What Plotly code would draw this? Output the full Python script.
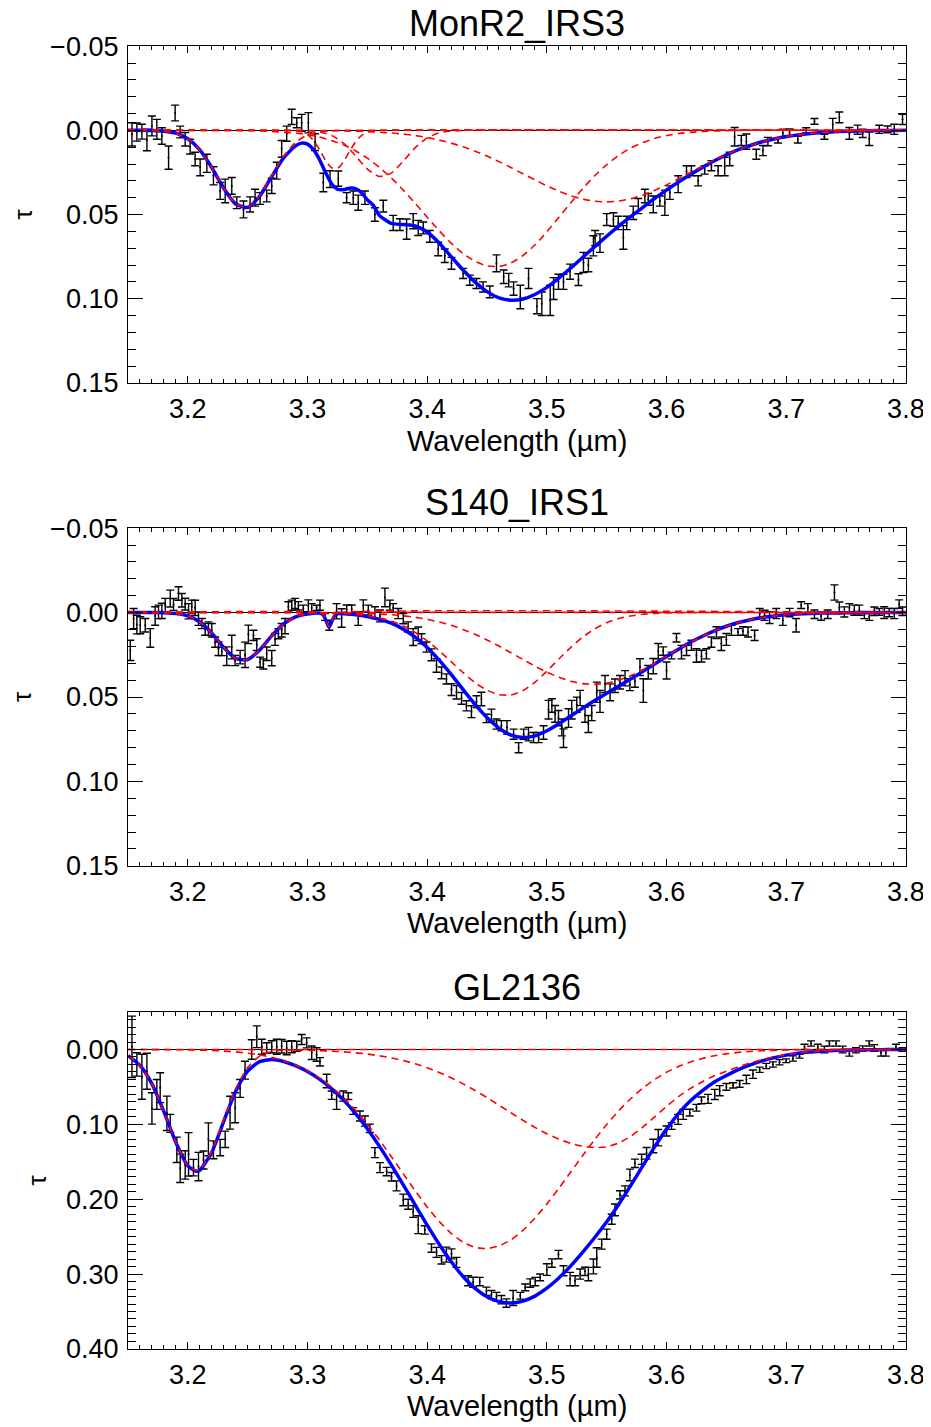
import plotly.graph_objects as go

FONT = "Liberation Sans, Arial, Helvetica, sans-serif"
PAGE_OFFSET = 8          # default body margin of the HTML page
W, H = 931 - PAGE_OFFSET, 1427 - PAGE_OFFSET

# ---------------- Panel 1: MonR2_IRS3 ----------------
p1_wl = [3.1533,3.1574,3.1616,3.1658,3.1700,3.1741,3.1783,3.1839,3.1894,3.1936,
         3.1978,3.2019,3.2061,3.2103,3.2159,3.2214,3.2270,3.2312,3.2367,3.2409,
         3.2465,3.2520,3.2562,3.2604,3.2659,3.2701,3.2743,3.2784,3.2826,3.2868,
         3.2910,3.2951,3.3007,3.3063,3.3132,3.3188,3.3257,3.3327,3.3382,3.3424,
         3.3480,3.3563,3.3633,3.3716,3.3772,3.3828,3.3883,3.3925,3.3967,3.4022,
         3.4092,3.4147,3.4203,3.4300,3.4356,3.4412,3.4467,3.4523,3.4579,3.4639,
         3.4681,3.4722,3.4778,3.4847,3.4917,3.4958,3.5028,3.5056,3.5097,3.5139,
         3.5194,3.5264,3.5306,3.5347,3.5389,3.5403,3.5444,3.5500,3.5556,3.5597,
         3.5639,3.5667,3.5722,3.5764,3.5819,3.5847,3.5889,3.5944,3.5986,3.6028,
         3.6097,3.6167,3.6208,3.6264,3.6319,3.6375,3.6431,3.6486,3.6528,3.6569,
         3.6625,3.6667,3.6750,3.6806,3.6847,3.6931,3.6972,3.7028,3.7097,3.7167,
         3.7236,3.7319,3.7389,3.7444,3.7528,3.7597,3.7639,3.7694,3.7778,3.7847,
         3.7903,3.7972]
p1_tau = [0.0024,0.001,0.0008,0.0057,-0.0026,-0.0006,0.0034,0.0162,-0.0103,0.001,
          0.0053,0.0097,0.017,0.022,0.0196,0.027,0.036,0.036,0.033,0.043,
          0.047,0.044,0.040,0.0405,0.039,0.033,0.024,0.011,0.002,-0.008,
          -0.0045,-0.0045,-0.0045,0.007,0.031,0.029,0.0287,0.040,0.040,0.043,
          0.040,0.050,0.045,0.055,0.056,0.0587,0.054,0.058,0.058,0.063,
          0.0705,0.0745,0.079,0.085,0.089,0.091,0.093,0.096,0.079,0.087,
          0.089,0.094,0.099,0.088,0.1045,0.103,0.101,0.094,0.090,0.090,
          0.084,0.0887,0.0785,0.080,0.0686,0.064,0.067,0.053,0.053,0.055,
          0.0636,0.055,0.049,0.045,0.039,0.041,0.044,0.042,0.043,0.037,
          0.032,0.0245,0.024,0.030,0.0235,0.021,0.024,0.0215,0.017,0.0038,
          0.006,0.0067,0.0142,0.012,0.0067,0.006,0.0018,0.0012,0.0055,0.0,
          -0.0053,0.0038,-0.0034,-0.0077,0.0018,-0.0004,0.0018,0.005,-0.0006,-0.0006,
          -0.0006,-0.0065]
p1_err = [0.0069,0.0054,0.0044,0.0064,0.0059,0.0059,0.0049,0.0069,0.0047,0.0035,
          0.004,0.0044,0.004,0.005,0.0054,0.0054,0.005,0.007,0.005,0.0035,
          0.005,0.0045,0.005,0.0035,0.0035,0.0045,0.005,0.005,0.0045,0.0045,
          0.003,0.005,0.006,0.005,0.0055,0.005,0.0045,0.003,0.004,0.0045,
          0.004,0.004,0.0035,0.0045,0.0035,0.006,0.0045,0.0045,0.0035,0.0035,
          0.004,0.004,0.0035,0.003,0.003,0.003,0.003,0.0035,0.005,0.004,
          0.004,0.004,0.007,0.006,0.0045,0.007,0.009,0.0065,0.0045,0.0045,
          0.0045,0.0035,0.006,0.004,0.006,0.0045,0.0055,0.0035,0.004,0.004,
          0.007,0.004,0.004,0.0045,0.004,0.0035,0.005,0.003,0.0075,0.004,
          0.005,0.0035,0.003,0.003,0.0025,0.003,0.003,0.0055,0.004,0.0055,
          0.003,0.0045,0.003,0.003,0.0025,0.0015,0.0025,0.002,0.002,0.0015,
          0.0017,0.0015,0.0037,0.0032,0.0035,0.0027,0.0025,0.004,0.0024,0.002,
          0.003,0.003]

p1_fit_wl = [3.15,3.16,3.17,3.18,3.19,3.20,3.21,3.22,3.23,3.24,3.25,3.26,3.27,3.28,3.29,
             3.295,3.30,3.305,3.31,3.315,3.32,3.325,3.33,3.335,3.34,3.345,3.35,3.355,
             3.36,3.37,3.38,3.39,3.40,3.41,3.42,3.43,3.44,3.45,3.46,3.47,3.48,3.49,3.50,
             3.51,3.52,3.53,3.54,3.55,3.56,3.57,3.58,3.59,3.60,3.61,3.62,3.63,3.64,3.65,
             3.66,3.67,3.68,3.69,3.70,3.71,3.72,3.73,3.74,3.75,3.76,3.77,3.78,3.79,3.80]
p1_fit = [0,0,0.0001,0.0005,0.0017,0.005,0.0116,0.0221,0.0344,0.0438,0.0458,0.0391,0.0276,0.0164,0.0092,
          0.0076,0.0082,0.0115,0.0173,0.025,0.0316,0.035,0.0353,0.0344,0.0346,0.0369,0.0413,0.0446,
          0.0505,0.0553,0.056,0.0568,0.0604,0.0669,0.075,0.083,0.0902,0.0958,0.0995,0.1009,0.1002,0.0975,0.0933,
          0.0878,0.0818,0.0754,0.0691,0.0629,0.0569,0.0512,0.0459,0.0405,0.0355,0.0307,0.0262,0.022,0.0181,0.0146,
          0.0115,0.009,0.0068,0.0051,0.0037,0.0027,0.0019,0.0013,0.0009,0.0006,0.0004,0.0002,0.0001,0.0001,0]

p1_c325_wl = [3.15,3.16,3.17,3.18,3.19,3.20,3.21,3.22,3.23,3.24,3.25,3.26,3.27,3.28,3.29,3.30,3.31,3.32,3.33,3.80]
p1_c325 = [0,0,0.0001,0.0005,0.0017,0.005,0.0116,0.0221,0.0344,0.0438,0.0456,0.0388,0.027,0.0154,0.0072,0.0027,0.0009,0.0002,0,0]
p1_c332_wl = [3.15,3.28,3.29,3.295,3.30,3.305,3.31,3.315,3.32,3.325,3.33,3.335,3.34,3.345,3.35,3.355,3.36,3.80]
p1_c332 = [0,0,0.0003,0.0009,0.0026,0.006,0.0114,0.0177,0.0222,0.0226,0.0188,0.0127,0.007,0.0031,0.0011,0.0003,0,0]
p1_c336_wl = [3.15,3.29,3.30,3.31,3.32,3.33,3.34,3.35,3.36,3.37,3.38,3.39,3.40,3.41,3.42,3.43,3.80]
p1_c336 = [0,0,0.0002,0.0009,0.003,0.0076,0.015,0.023,0.0274,0.0254,0.0183,0.0103,0.0045,0.0015,0.0004,0,0]
p1_c346_wl = [3.15,3.20,3.25,3.27,3.29,3.30,3.31,3.32,3.33,3.34,3.35,3.36,3.37,3.38,3.39,3.40,3.41,3.42,
              3.43,3.44,3.45,3.46,3.47,3.48,3.49,3.50,3.51,3.52,3.53,3.54,3.55,3.56,3.57,3.58,3.59,3.60,
              3.61,3.62,3.63,3.64,3.65,3.66,3.80]
p1_c346 = [0,0,0.0002,0.0006,0.0017,0.0026,0.004,0.006,0.0086,0.0121,0.0165,0.022,0.0283,0.0355,0.0434,0.0516,0.0596,0.067,
           0.0732,0.0778,0.0805,0.0809,0.0788,0.0744,0.0681,0.0603,0.0517,0.043,0.0346,0.027,0.0204,0.0149,0.0105,0.0073,0.0048,0.0031,
           0.0019,0.0012,0.0007,0.0004,0.0002,0,0]
p1_c355_wl = [3.15,3.30,3.32,3.34,3.35,3.36,3.37,3.38,3.39,3.40,3.41,3.42,3.43,3.44,3.45,3.46,3.47,3.48,3.49,3.50,
              3.51,3.52,3.53,3.54,3.55,3.56,3.57,3.58,3.59,3.60,3.61,3.62,3.63,3.64,3.65,3.66,3.67,3.68,3.69,3.70,
              3.71,3.72,3.73,3.74,3.75,3.76,3.77,3.78,3.79,3.80]
p1_c355 = [0,0.0001,0.0002,0.0005,0.0007,0.0011,0.0016,0.0022,0.0031,0.0043,0.0058,0.0076,0.0098,0.0124,0.0153,0.0186,0.0221,0.0258,0.0294,0.033,
           0.0361,0.0388,0.0408,0.0421,0.0425,0.042,0.0407,0.0386,0.0357,0.0324,0.0288,0.025,0.0213,0.0177,0.0144,0.0115,0.009,0.0068,0.0051,0.0037,
           0.0027,0.0019,0.0013,0.0009,0.0006,0.0004,0.0002,0.0001,0.0001,0]

# ---------------- Panel 2: S140_IRS1 ----------------
p2_wl = [3.1519,3.1547,3.1574,3.1602,3.1644,3.1686,3.1727,3.1755,3.1783,3.1811,
         3.1853,3.1880,3.1922,3.1950,3.1978,3.2006,3.2033,3.2061,3.2089,3.2117,
         3.2145,3.2172,3.2200,3.2228,3.2256,3.2284,3.2325,3.2367,3.2395,3.2437,
         3.2478,3.2506,3.2548,3.2576,3.2604,3.2631,3.2659,3.2701,3.2729,3.2757,
         3.2784,3.2812,3.2840,3.2868,3.2896,3.2924,3.2965,3.3007,3.3035,3.3076,
         3.3104,3.3146,3.3182,3.3243,3.3285,3.3327,3.3369,3.3424,3.3466,3.3508,
         3.3563,3.3605,3.3647,3.3688,3.3716,3.3758,3.3800,3.3841,3.3883,3.3925,
         3.3953,3.3994,3.4036,3.4078,3.4120,3.4161,3.4203,3.4245,3.4287,3.4328,
         3.4370,3.4412,3.4453,3.4495,3.4537,3.4579,3.4620,
         3.4667,3.4722,3.4764,3.4806,3.4847,3.4889,3.4931,3.4972,3.5014,3.5042,
         3.5069,3.5097,3.5125,3.5139,3.5181,3.5208,3.5250,3.5278,3.5319,3.5347,
         3.5375,3.5417,3.5444,3.5486,3.5528,3.5569,3.5611,3.5653,3.5694,3.5736,
         3.5778,3.5806,3.5847,3.5889,3.5931,3.5972,3.6000,3.6042,3.6083,3.6125,
         3.6167,3.6208,3.6250,3.6292,3.6333,3.6375,3.6417,3.6458,3.6500,3.6542,
         3.6597,3.6639,3.6681,3.6736,3.6778,3.6819,3.6861,3.6917,3.6972,3.7028,
         3.7083,3.7125,3.7181,3.7236,3.7292,3.7347,3.7403,3.7444,3.7486,3.7528,
         3.7569,3.7611,3.7653,3.7694,3.7736,3.7778,3.7819,3.7861,3.7903,3.7944,
         3.7972]
p2_tau = [0.0224,0.0036,0.0071,0.0075,0.0075,0.015,0.002,-0.0004,-0.001,-0.0044,
          -0.0083,-0.0048,-0.0113,-0.0073,-0.005,-0.0008,-0.0034,-0.0028,0.0036,0.0065,
          0.0099,0.0095,0.0105,0.0175,0.0214,0.023,0.0258,0.0204,0.0284,0.0264,
          0.025,0.0129,0.0135,0.019,0.0294,0.0304,0.0244,0.027,0.0159,0.0125,
          0.0105,0.008,-0.0034,-0.0044,-0.0054,-0.004,-0.0024,-0.004,-0.0028,-0.0028,
          -0.0044,0.0026,0.0075,-0.0008,0.0032,-0.002,-0.002,0.0036,-0.004,-0.0014,
          0.0,0.002,-0.009,-0.0044,-0.0028,0.0006,0.0036,0.0085,0.0145,0.0125,
          0.0155,0.0204,0.025,0.0313,0.0357,0.0393,0.0456,0.0472,0.0508,0.0552,
          0.0587,0.0528,0.0512,0.0627,0.0607,0.066,0.067,
          0.068,0.072,0.080,0.072,0.072,0.074,0.074,0.071,0.0575,0.055,
          0.060,0.0625,0.068,0.0744,0.0625,0.0575,0.0546,0.0506,0.0605,0.066,
          0.0595,0.0472,0.0526,0.0423,0.0472,0.0433,0.0413,0.0389,0.0427,0.0407,
          0.0323,0.0462,0.0353,0.0317,0.0228,0.0228,0.0343,0.0254,0.0149,0.0234,
          0.0224,0.0194,0.0254,0.0258,0.0244,0.0175,0.0119,0.0185,0.0159,0.0105,
          0.0115,0.0109,0.0115,0.0135,0.0006,0.0016,0.003,0.0006,0.0046,0.0,
          0.0075,-0.0044,-0.0028,0.001,0.002,0.001,-0.0119,-0.0028,-0.0004,-0.0028,
          -0.0014,-0.0014,0.0016,0.0026,-0.0008,-0.0004,0.0,0.0,0.0006,-0.005,
          -0.0008]
p2_err = [0.006,0.006,0.0055,0.005,0.004,0.0055,0.0055,0.004,0.0045,0.004,
          0.005,0.0035,0.004,0.004,0.0035,0.0045,0.004,0.0045,0.004,0.003,
          0.0035,0.004,0.004,0.003,0.004,0.0025,0.0055,0.007,0.003,0.004,
          0.0075,0.0055,0.003,0.0035,0.003,0.003,0.004,0.0045,0.0035,0.003,
          0.004,0.0045,0.003,0.003,0.003,0.0025,0.002,0.0035,0.0025,0.0015,
          0.003,0.002,0.003,0.0045,0.0055,0.0025,0.0025,0.004,0.0035,0.003,
          0.0035,0.0035,0.0055,0.003,0.0025,0.003,0.003,0.003,0.005,0.004,
          0.003,0.003,0.0035,0.004,0.0035,0.003,0.0035,0.004,0.0035,0.003,
          0.0035,0.0035,0.004,0.0025,0.0035,0.003,0.003,
          0.004,0.003,0.003,0.003,0.004,0.003,0.003,0.004,0.0055,0.004,
          0.005,0.0045,0.005,0.0055,0.0055,0.0055,0.0045,0.0045,0.0045,0.005,
          0.0045,0.006,0.0065,0.005,0.005,0.004,0.004,0.0045,0.0035,0.0035,
          0.005,0.007,0.004,0.0045,0.0045,0.0025,0.005,0.002,0.0025,0.004,
          0.003,0.003,0.004,0.0035,0.003,0.003,0.0035,0.004,0.0035,0.003,
          0.002,0.0025,0.003,0.003,0.003,0.003,0.0035,0.003,0.003,0.0025,
          0.004,0.002,0.0025,0.0025,0.0025,0.0025,0.0045,0.0035,0.003,0.0025,
          0.003,0.003,0.002,0.002,0.0025,0.002,0.0035,0.0025,0.003,0.0025,
          0.0025]

p2_fit_wl = [3.15,3.16,3.17,3.18,3.19,3.20,3.21,3.22,3.23,3.24,3.25,3.26,3.27,3.28,3.29,3.30,3.31,
             3.313,3.3155,3.318,3.3205,3.323,3.326,
             3.33,3.34,3.35,3.36,3.37,3.38,3.39,3.40,3.41,3.42,3.43,3.44,3.45,3.46,3.47,3.48,3.49,3.50,
             3.51,3.52,3.53,3.54,3.55,3.56,3.57,3.58,3.59,3.60,3.61,3.62,3.63,3.64,3.65,3.66,3.67,3.68,
             3.69,3.70,3.71,3.72,3.73,3.74,3.75,3.76,3.77,3.78,3.79,3.80]
p2_fit = [0,0,0,0.0001,0.0006,0.002,0.0056,0.0122,0.0206,0.0272,0.0278,0.0222,0.0138,0.0067,0.0025,0.0008,0.0003,
          0.0013,0.0048,0.0088,0.0049,0.0014,0.0005,
          0.0007,0.0013,0.0023,0.004,0.0063,0.0098,0.0146,0.0207,0.0282,0.0366,0.0456,0.0544,0.0622,0.0684,0.0726,0.074,0.073,0.07,
          0.0658,0.0613,0.0566,0.0521,0.0478,0.0435,0.0394,0.0349,0.0305,0.026,0.0217,0.0176,0.014,0.0108,0.0081,0.0059,0.0042,0.0029,
          0.002,0.0013,0.0008,0.0005,0.0003,0.0002,0.0001,0,0,0,0,0]

p2_c325_wl = [3.15,3.17,3.18,3.19,3.20,3.21,3.22,3.23,3.24,3.25,3.26,3.27,3.28,3.29,3.30,3.31,3.32,3.80]
p2_c325 = [0,0,0.0001,0.0006,0.002,0.0056,0.0122,0.0206,0.0272,0.0278,0.0222,0.0138,0.0067,0.0025,0.0007,0.0002,0,0]
p2_c332_wl = [3.15,3.31,3.313,3.3155,3.318,3.3205,3.323,3.326,3.80]
p2_c332 = [0,0,0.001,0.0045,0.0085,0.0045,0.001,0,0]
p2_c347_wl = [3.15,3.30,3.32,3.33,3.34,3.35,3.36,3.37,3.38,3.39,3.40,3.41,3.42,3.43,3.44,3.45,3.46,3.47,3.48,
              3.49,3.50,3.51,3.52,3.53,3.54,3.55,3.56,3.57,3.58,3.59,3.60,3.61,3.62,3.80]
p2_c347 = [0,0.0001,0.0003,0.0005,0.001,0.0018,0.0031,0.005,0.0079,0.0118,0.0167,0.0226,0.0291,0.0356,0.0415,0.046,0.0486,0.0488,0.0462,
           0.0413,0.0347,0.0275,0.0206,0.0145,0.0096,0.006,0.0035,0.002,0.001,0.0005,0.0002,0.0001,0,0]
p2_c354_wl = [3.15,3.30,3.32,3.34,3.35,3.36,3.37,3.38,3.39,3.40,3.41,3.42,3.43,3.44,3.45,3.46,3.47,3.48,3.49,3.50,
              3.51,3.52,3.53,3.54,3.55,3.56,3.57,3.58,3.59,3.60,3.61,3.62,3.63,3.64,3.65,3.66,3.67,3.68,3.69,3.70,
              3.71,3.72,3.73,3.74,3.75,3.76,3.80]
p2_c354 = [0,0,0.0001,0.0003,0.0005,0.0009,0.0013,0.0019,0.0028,0.004,0.0056,0.0075,0.01,0.0129,0.0162,0.0198,0.0238,0.0278,0.0317,0.0353,
           0.0383,0.0407,0.0421,0.0425,0.0418,0.04,0.0374,0.0339,0.03,0.0258,0.0216,0.0176,0.014,0.0108,0.0081,0.0059,0.0042,0.0029,0.002,0.0013,
           0.0008,0.0005,0.0003,0.0002,0.0001,0,0]

# ---------------- Panel 3: GL2136 ----------------
p3_wl = [3.1533,3.1574,3.1616,3.1658,3.1700,3.1741,3.1769,3.1825,3.1853,3.1908,
         3.1936,3.1978,3.2006,3.2047,3.2089,3.2131,3.2172,3.2214,3.2270,3.2312,
         3.2353,3.2395,3.2437,3.2478,3.2534,3.2576,3.2618,3.2659,3.2701,3.2743,
         3.2784,3.2826,3.2868,3.2910,3.2951,3.2993,3.3035,3.3076,3.3104,3.3160,
         3.3202,3.3243,3.3299,3.3341,3.3382,3.3438,3.3480,3.3521,3.3563,3.3605,
         3.3661,3.3702,3.3744,3.3800,3.3841,3.3883,3.3925,3.3980,3.4036,3.4078,
         3.4120,3.4161,3.4203,3.4245,3.4342,3.4384,3.4439,3.4495,3.4537,3.4579,
         3.4620,3.4662,3.4718,
         3.4778,3.4819,3.4861,3.4903,3.4944,3.5000,3.5042,3.5097,3.5139,3.5194,
         3.5236,3.5278,3.5319,3.5347,3.5389,3.5417,3.5458,3.5500,3.5542,3.5569,
         3.5611,3.5653,3.5694,3.5736,3.5792,3.5833,3.5889,3.5931,3.6000,3.6042,
         3.6097,3.6139,3.6194,3.6250,3.6292,3.6347,3.6403,3.6444,3.6500,3.6556,
         3.6611,3.6667,3.6722,3.6778,3.6833,3.6889,3.6944,3.7000,3.7056,3.7111,
         3.7153,3.7208,3.7264,3.7319,3.7361,3.7417,3.7472,3.7528,3.7583,3.7639,
         3.7694,3.7736,3.7792,3.7833,3.7917,3.7972]
p3_tau = [-0.0036,0.02,0.0364,0.029,0.0787,0.06,0.051,0.0853,0.0987,0.134,
          0.1587,0.1542,0.14,0.1578,0.1564,0.1476,0.12,0.134,0.131,0.12,
          0.0844,0.0778,0.052,0.0276,0.0,-0.017,-0.0036,-0.002,-0.0036,-0.0036,
          -0.0044,-0.002,-0.0036,-0.0044,-0.0133,-0.0089,0.0044,0.0067,0.0164,0.042,
          0.061,0.069,0.0622,0.0622,0.0822,0.0889,0.0956,0.1053,0.1378,0.1578,
          0.1631,0.17,0.1822,0.201,0.2067,0.2164,0.234,0.241,0.2653,0.271,
          0.281,0.274,0.273,0.2844,0.309,0.311,0.31,0.323,0.3276,0.33,
          0.3342,0.3387,0.332,
          0.329,0.3178,0.312,0.31,0.3044,0.294,0.2853,0.274,0.2956,0.3067,
          0.309,0.30,0.2964,0.30,0.2898,0.2778,0.26,0.2467,0.2267,0.2142,
          0.1942,0.1889,0.1676,0.152,0.1467,0.1387,0.1289,0.1178,0.1089,0.1022,
          0.0933,0.0867,0.0844,0.0778,0.068,0.066,0.060,0.055,0.050,0.048,
          0.046,0.040,0.033,0.027,0.022,0.020,0.017,0.015,0.012,0.009,
          -0.0036,-0.008,-0.0036,0.0,-0.008,-0.008,0.0,0.0053,0.001,-0.0013,
          -0.008,-0.002,0.0044,0.0044,-0.0036,0.0]
p3_err = [0.041,0.0156,0.03,0.024,0.021,0.02,0.02,0.023,0.012,0.017,
          0.019,0.019,0.029,0.011,0.019,0.012,0.022,0.012,0.011,0.011,
          0.022,0.02,0.012,0.012,0.013,0.0145,0.01,0.007,0.008,0.01,
          0.009,0.009,0.008,0.0067,0.0067,0.0067,0.009,0.009,0.0056,0.009,
          0.0056,0.011,0.0067,0.0045,0.0045,0.0067,0.0067,0.0056,0.0067,0.0067,
          0.0056,0.0056,0.0067,0.0078,0.0067,0.0078,0.012,0.0056,0.0056,0.0067,
          0.0056,0.01,0.0067,0.0067,0.0067,0.0067,0.0056,0.0056,0.0056,0.0056,
          0.0056,0.0056,0.01,
          0.0045,0.0045,0.0056,0.0056,0.0045,0.0078,0.0056,0.0056,0.0067,0.009,
          0.0067,0.0067,0.0056,0.009,0.01,0.013,0.0067,0.0067,0.0067,0.0078,
          0.0056,0.0067,0.0078,0.0056,0.0067,0.0078,0.009,0.011,0.0067,0.0045,
          0.0067,0.0067,0.0045,0.0045,0.0045,0.006,0.0067,0.0067,0.0045,0.0035,
          0.0045,0.0056,0.0056,0.0035,0.0035,0.0035,0.0035,0.0025,0.0035,0.0025,
          0.0035,0.0035,0.0035,0.0045,0.0035,0.0035,0.0045,0.0035,0.0035,0.0035,
          0.0035,0.0045,0.0045,0.0045,0.0035,0.0025]

p3_fit_wl = [3.15,3.16,3.17,3.18,3.19,3.20,3.207,3.21,3.22,3.23,3.24,3.25,3.26,3.27,3.28,3.29,3.30,
             3.31,3.32,3.33,3.34,3.35,3.36,3.37,3.38,3.39,3.40,3.41,3.42,3.43,3.44,3.45,3.46,3.47,3.48,
             3.49,3.50,3.51,3.52,3.53,3.54,3.55,3.56,3.57,3.58,3.59,3.60,3.61,3.62,3.63,3.64,3.65,3.66,
             3.67,3.68,3.69,3.70,3.71,3.72,3.73,3.74,3.75,3.76,3.77,3.78,3.79,3.80]
p3_fit = [0.0081,0.0213,0.046,0.083,0.1243,0.1554,0.1627,0.1613,0.1373,0.0959,0.0558,0.029,0.0163,0.0135,0.016,0.0216,0.0295,
          0.0396,0.0522,0.0673,0.0853,0.1059,0.1291,0.1542,0.1808,0.2078,0.2347,0.2602,0.2833,0.3033,0.3191,0.3302,0.3368,0.3387,0.3361,
          0.3294,0.3189,0.3052,0.289,0.2707,0.2511,0.2302,0.207,0.1818,0.1559,0.1301,0.1064,0.0857,0.0686,0.0549,0.0434,0.0348,0.0269,
          0.0206,0.0152,0.0109,0.0075,0.005,0.0033,0.0022,0.0013,0.0008,0.0005,0.0003,0.0002,0.0001,0]

p3_c321_wl = [3.15,3.16,3.17,3.18,3.19,3.20,3.207,3.21,3.22,3.23,3.24,3.25,3.26,3.27,3.28,3.29,3.30,3.80]
p3_c321 = [0.0081,0.0213,0.0459,0.0828,0.124,0.1549,0.162,0.1605,0.136,0.0938,0.0526,0.024,0.0089,0.0027,0.0007,0.0001,0,0]
p3_c345_wl = [3.15,3.17,3.19,3.20,3.21,3.22,3.23,3.24,3.25,3.26,3.27,3.28,3.29,3.30,3.31,3.32,3.33,3.34,3.35,3.36,
              3.37,3.38,3.39,3.40,3.41,3.42,3.43,3.44,3.45,3.46,3.47,3.48,3.49,3.50,3.51,3.52,3.53,3.54,3.55,3.56,
              3.57,3.58,3.59,3.60,3.61,3.62,3.63,3.64,3.65,3.66,3.67,3.68,3.69,3.70,3.71,3.72,3.73,3.74,3.75,3.80]
p3_c345 = [0,0.0001,0.0003,0.0005,0.0008,0.0013,0.0021,0.0032,0.0049,0.0072,0.0105,0.0149,0.0208,0.0285,0.0381,0.05,0.0642,0.0809,0.0998,0.1207,
           0.143,0.166,0.1887,0.2103,0.2296,0.2455,0.2574,0.2643,0.2659,0.2624,0.2542,0.2416,0.2254,0.2064,0.1854,0.1636,0.1415,0.1202,0.1002,0.082,
           0.0658,0.0519,0.0401,0.0304,0.0227,0.0166,0.0119,0.0084,0.0058,0.0039,0.0026,0.0017,0.0011,0.0007,0.0004,0.0003,0.0002,0.0001,0,0]
p3_c354_wl = [3.15,3.24,3.25,3.26,3.27,3.28,3.29,3.30,3.31,3.32,3.33,3.34,3.35,3.36,3.37,3.38,3.39,3.40,3.41,3.42,
              3.43,3.44,3.45,3.46,3.47,3.48,3.49,3.50,3.51,3.52,3.53,3.54,3.55,3.56,3.57,3.58,3.59,3.60,3.61,3.62,
              3.63,3.64,3.65,3.66,3.67,3.68,3.69,3.70,3.71,3.72,3.73,3.74,3.75,3.76,3.77,3.78,3.79,3.80]
p3_c354 = [0,0,0.0001,0.0002,0.0003,0.0004,0.0007,0.001,0.0015,0.0022,0.0031,0.0044,0.0061,0.0084,0.0112,0.0148,0.0191,0.0244,0.0306,0.0378,
           0.0459,0.0548,0.0643,0.0744,0.0845,0.0945,0.104,0.1125,0.1198,0.1254,0.1292,0.1309,0.130,0.125,0.116,0.104,0.09,0.076,0.063,0.052,
           0.043,0.035,0.029,0.023,0.018,0.0135,0.0098,0.0068,0.0046,0.003,0.002,0.0012,0.0008,0.0005,0.0003,0.0002,0.0001,0]

# ---------------- Text ----------------
titles = ["MonR2_IRS3", "S140_IRS1", "GL2136"]
x_label = "Wavelength (\u00b5m)"
y_label = "\u03c4"

panels = [
    dict(wl=p1_wl, tau=p1_tau, err=p1_err, fit_wl=p1_fit_wl, fit=p1_fit,
         comps=[(p1_c325_wl, p1_c325), (p1_c332_wl, p1_c332), (p1_c336_wl, p1_c336),
                (p1_c346_wl, p1_c346), (p1_c355_wl, p1_c355)]),
    dict(wl=p2_wl, tau=p2_tau, err=p2_err, fit_wl=p2_fit_wl, fit=p2_fit,
         comps=[(p2_c325_wl, p2_c325), (p2_c332_wl, p2_c332), (p2_c347_wl, p2_c347),
                (p2_c354_wl, p2_c354)]),
    dict(wl=p3_wl, tau=p3_tau, err=p3_err, fit_wl=p3_fit_wl, fit=p3_fit,
         comps=[(p3_c321_wl, p3_c321), (p3_c345_wl, p3_c345), (p3_c354_wl, p3_c354)]),
]

# layout geometry (page pixels; converted to figure pixels by removing the page offset)
plot_left, plot_right = 128, 906
panel_tb = [(46, 383), (528, 866), (1012, 1349)]
y_ranges = [[0.1501, -0.0501], [0.1501, -0.0501], [0.4001, -0.0501]]
y_dticks = [0.05, 0.05, 0.1]
title_y = [23, 503, 987]
xlab_y = [441, 923, 1406]
tau_x = [22, 22, 36]


def fx(px):
    return (px - PAGE_OFFSET) / W


def fy(py):
    return 1 - (py - PAGE_OFFSET) / H


fig = go.Figure()
layout = dict(width=W, height=H, margin=dict(l=0, r=0, t=0, b=0, pad=0, autoexpand=False),
              paper_bgcolor="white", plot_bgcolor="white", showlegend=False,
              font=dict(family=FONT, color="black"))
annotations = []

for i, p in enumerate(panels):
    xa = "x" if i == 0 else f"x{i+1}"
    ya = "y" if i == 0 else f"y{i+1}"
    fig.add_trace(go.Scatter(x=p["wl"], y=p["tau"], mode="markers", xaxis=xa, yaxis=ya,
                             marker=dict(size=2, color="black"),
                             error_y=dict(type="data", array=p["err"], color="black",
                                          thickness=1.4, width=4),
                             hoverinfo="skip"))
    fig.add_trace(go.Scatter(x=p["fit_wl"], y=p["fit"], mode="lines", xaxis=xa, yaxis=ya,
                             line=dict(color="#0000ff", width=3.5, shape="spline", smoothing=0.6),
                             hoverinfo="skip"))
    for cx, cy in p["comps"]:
        fig.add_trace(go.Scatter(x=cx, y=cy, mode="lines", xaxis=xa, yaxis=ya,
                                 line=dict(color="#ff0000", width=1.6, dash="7px,5px",
                                           shape="spline", smoothing=0.6),
                                 hoverinfo="skip"))

    top, bot = panel_tb[i]
    xkey = "xaxis" if i == 0 else f"xaxis{i+1}"
    ykey = "yaxis" if i == 0 else f"yaxis{i+1}"
    layout[xkey] = dict(domain=[fx(plot_left), fx(plot_right)], anchor=ya, automargin=False,
                        range=[3.15, 3.8001], tick0=3.2, dtick=0.1, tickformat=".1f",
                        ticks="inside", ticklen=7, tickwidth=1, tickcolor="black",
                        showline=True, linewidth=1.3, linecolor="black", mirror="allticks",
                        showgrid=False, zeroline=False, ticklabelstandoff=1,
                        tickfont=dict(family=FONT, size=27, color="black"),
                        minor=dict(dtick=0.01, tick0=3.15, ticks="inside", ticklen=3.5,
                                   tickwidth=1, tickcolor="black", showgrid=False))
    layout[ykey] = dict(domain=[fy(bot), fy(top)], anchor=xa, automargin=False,
                        range=y_ranges[i], tick0=0, dtick=y_dticks[i], tickformat=".2f",
                        ticks="inside", ticklen=15, tickwidth=1, tickcolor="black",
                        showline=True, linewidth=1.3, linecolor="black", mirror="allticks",
                        showgrid=False, zeroline=True, zerolinecolor="black", zerolinewidth=1,
                        ticklabelstandoff=3,
                        tickfont=dict(family=FONT, size=27, color="black"),
                        minor=dict(dtick=0.01, tick0=0, ticks="inside", ticklen=8,
                                   tickwidth=1, tickcolor="black", showgrid=False))
    cx_paper = fx((plot_left + plot_right) / 2)
    annotations.append(dict(text=titles[i], x=cx_paper, y=fy(title_y[i]), xref="paper", yref="paper",
                            xanchor="center", yanchor="middle", showarrow=False,
                            font=dict(family=FONT, size=36, color="black")))
    annotations.append(dict(text=x_label, x=cx_paper, y=fy(xlab_y[i]), xref="paper", yref="paper",
                            xanchor="center", yanchor="middle", showarrow=False,
                            font=dict(family=FONT, size=29, color="black")))
    annotations.append(dict(text=y_label, x=fx(tau_x[i]), y=fy((top + bot) / 2), xref="paper", yref="paper",
                            xanchor="center", yanchor="middle", showarrow=False, textangle=-90,
                            font=dict(family=FONT, size=26, color="black")))

layout["annotations"] = annotations
fig.update_layout(**layout)
fig.write_html("out.html")
